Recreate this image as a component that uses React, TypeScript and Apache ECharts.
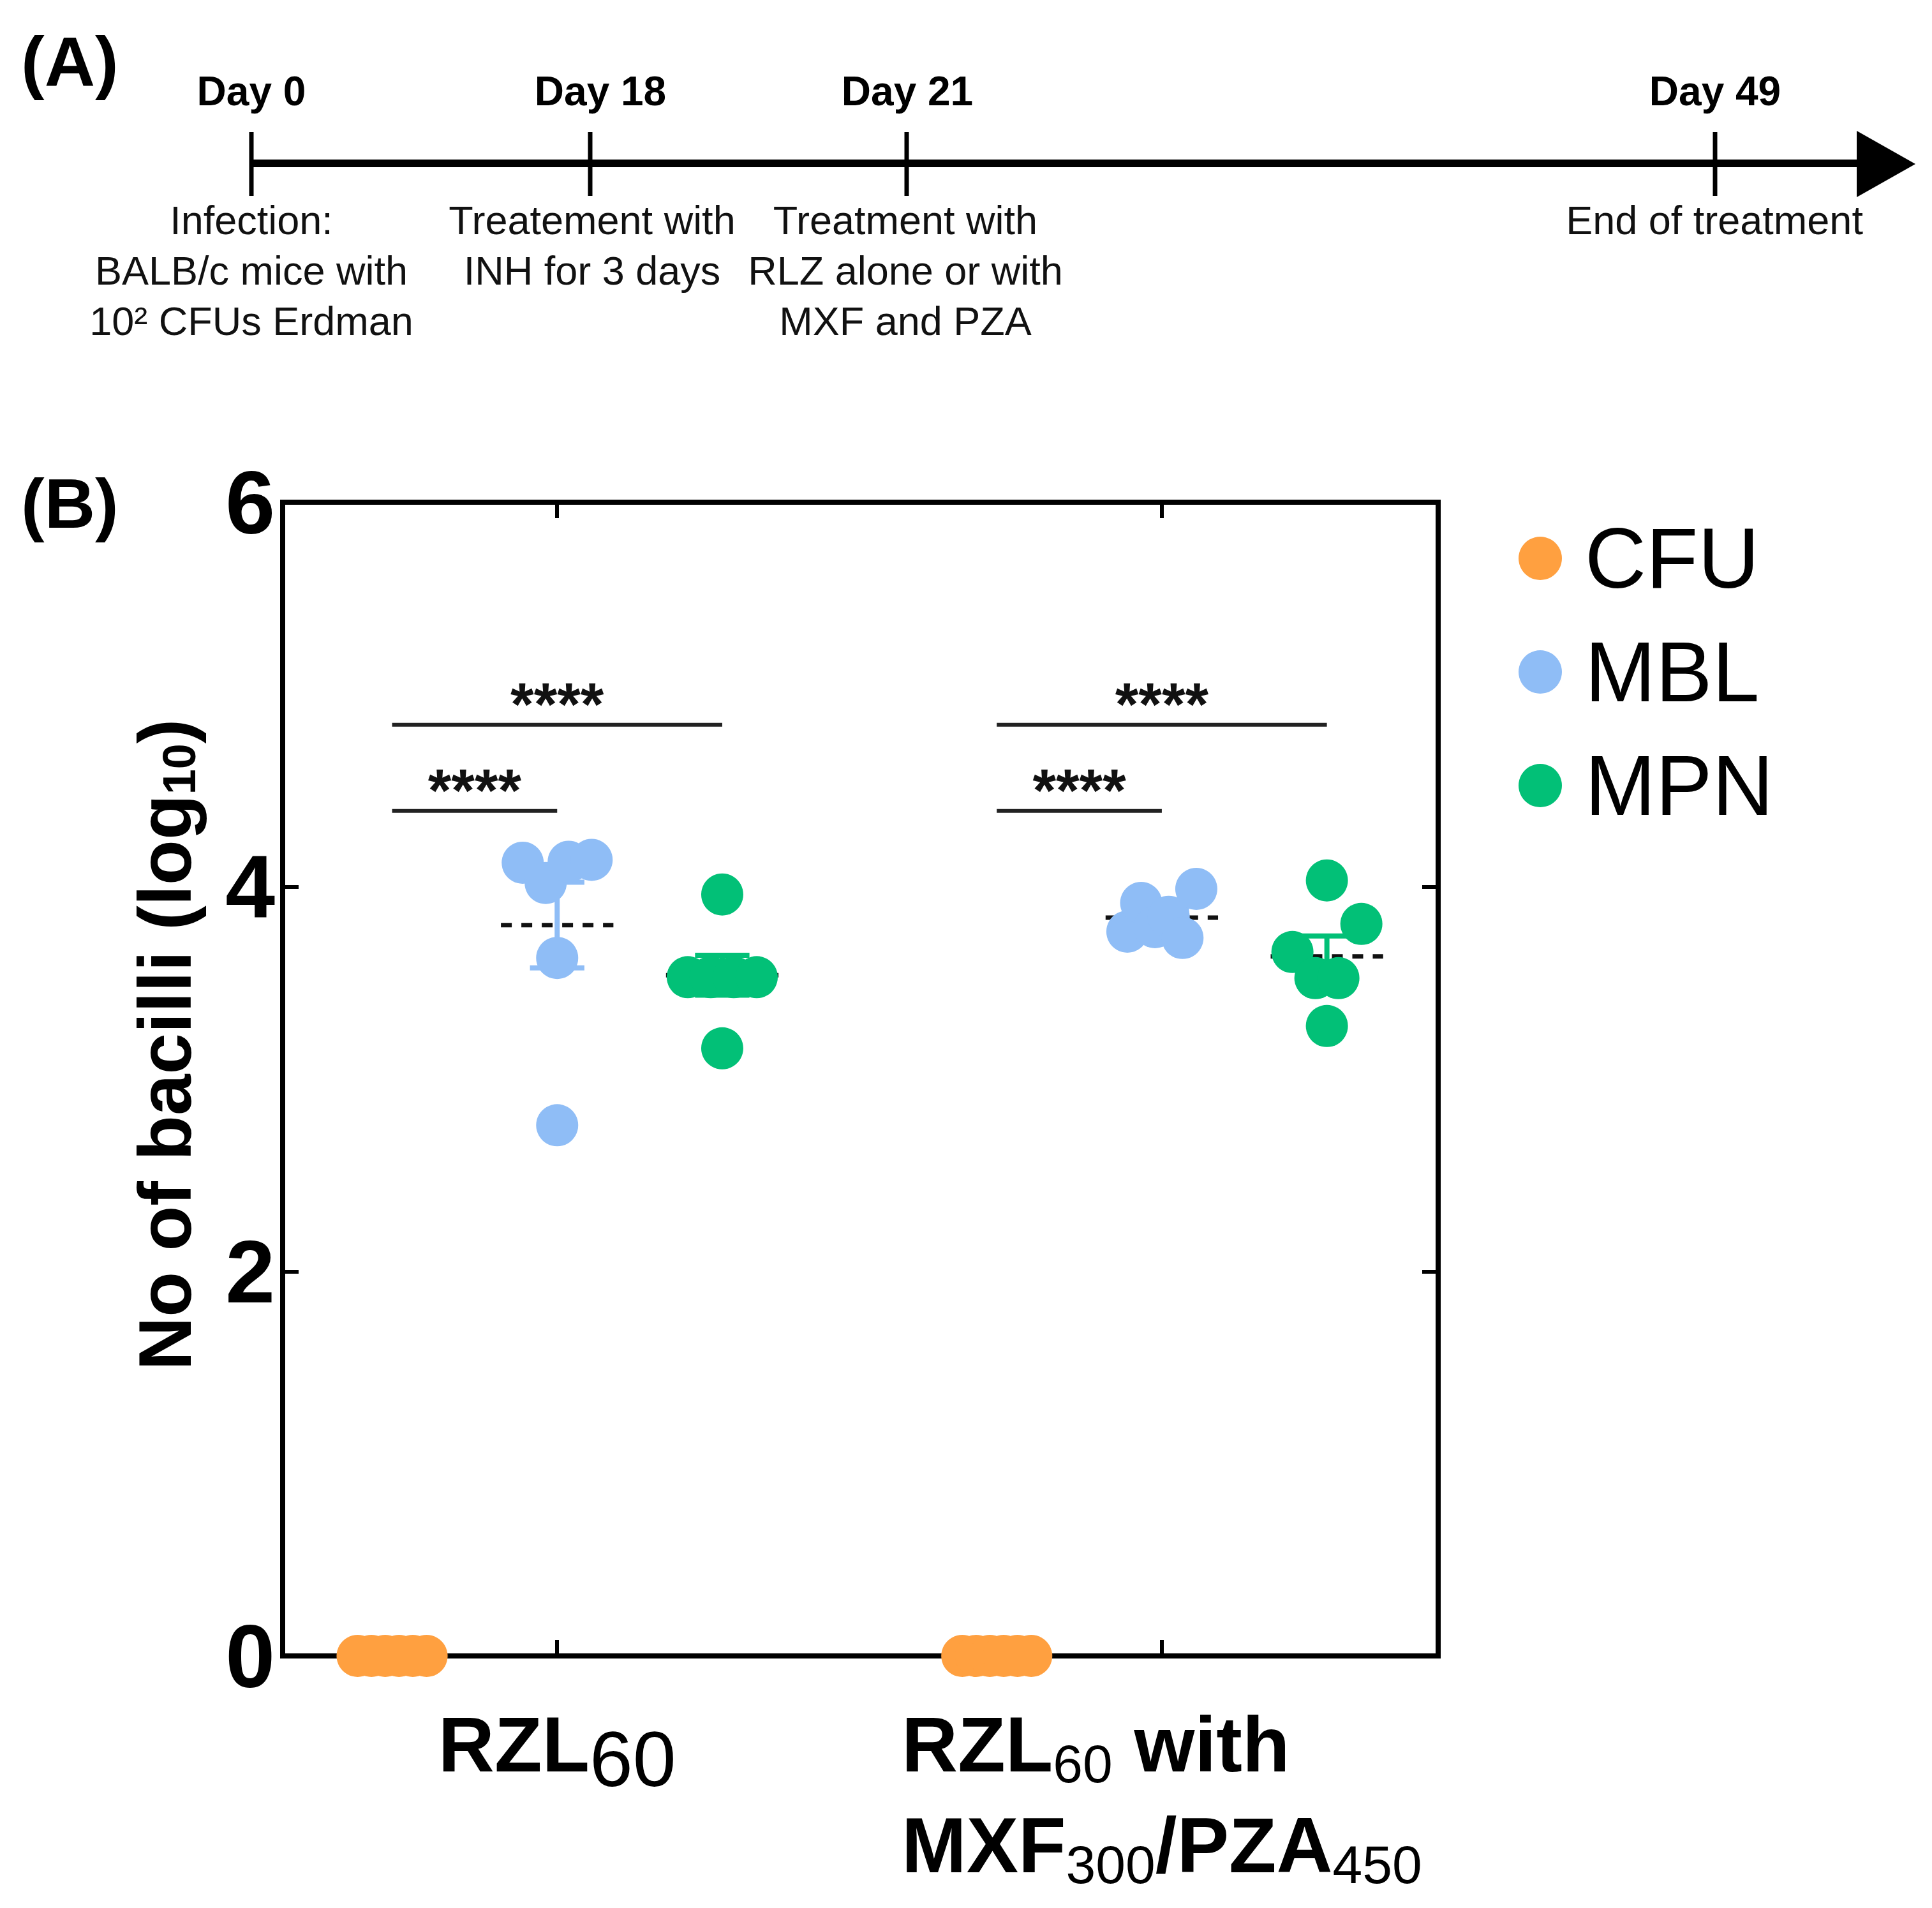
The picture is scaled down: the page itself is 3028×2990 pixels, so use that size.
import React, { useEffect, useRef } from "react";
import * as echarts from "echarts";

// ---------------- data ----------------
const groupLabels = [
  "{b|RZL}{m|60}",
  "{b|RZL}{s|60}{b| with}\n{b|MXF}{s|300}{b|/PZA}{s|450}",
];
const seriesNames = ["CFU", "MBL", "MPN"];
// log10 bacilli per mouse, group "RZL60"
const cfuRzl = [0, 0, 0, 0, 0, 0];
const mblRzl = [4.125, 4.02, 4.13, 4.14, 3.63, 2.76];
const mpnRzl = [3.96, 3.53, 3.53, 3.53, 3.53, 3.16];
// group "RZL60 with MXF300/PZA450"
const cfuCombo = [0, 0, 0, 0, 0, 0];
const mblCombo = [3.767, 3.916, 3.79, 3.844, 3.734, 3.989];
const mpnCombo = [4.033, 3.661, 3.525, 3.525, 3.807, 3.276];
const yTicks = [0, 2, 4, 6];
// significance comparisons: group index, from column, to column, label
const comparisons = [
  { group: 0, from: 0, to: 2, label: "****" },
  { group: 0, from: 0, to: 1, label: "****" },
  { group: 1, from: 0, to: 2, label: "****" },
  { group: 1, from: 0, to: 1, label: "****" },
];
const timelineDays = ["Day 0", "Day 18", "Day 21", "Day 49"];
const timelineNotes = [
  "Infection:\nBALB/c mice with\n10² CFUs Erdman",
  "Treatement with\nINH for 3 days",
  "Treatment with\nRLZ alone or with\nMXF and PZA",
  "End of treatment",
];

// ---------------- layout / style ----------------
const FONT = "'Liberation Sans', Arial, Helvetica, sans-serif";
const COLORS = ["#FFA040", "#8FBDF6", "#02C077"];
const GROUP_X = [1, 2];
const COL_OFFSET = [-0.273, 0, 0.273];
const X_MIN = 0.546;
const X_MAX = 2.457;
const TOUCH = 0.215; // value distance under which dots are spread sideways
const MAX_STEP = 0.039;
const MAX_SPAN = 0.114;
const MEAN_HALF = 0.093;
const CAP_HALF = 0.045;
const BRACKET_LEVEL: Record<number, number> = { 1: 4.395, 2: 4.843 };
const TL_X = [394, 925, 1421, 2688];
const TL_LABEL_X = [394, 941, 1422, 2688];
const TL_NOTE_X = [394, 928, 1419, 2687];

const groupsData = [
  [cfuRzl, mblRzl, mpnRzl],
  [cfuCombo, mblCombo, mpnCombo],
];

function spread(values: number[]): number[] {
  const idx = values.map((_, i) => i).sort((a, b) => values[a] - values[b]);
  const clusters: number[][] = [];
  let cur: number[] = [];
  idx.forEach((i, k) => {
    if (k > 0 && values[i] - values[idx[k - 1]] > TOUCH) {
      clusters.push(cur);
      cur = [];
    }
    cur.push(i);
  });
  clusters.push(cur);
  const off = new Array(values.length).fill(0);
  clusters.forEach((c) => {
    c.sort((a, b) => a - b);
    const n = c.length;
    if (n < 2) return;
    const step = Math.min(MAX_STEP, MAX_SPAN / (n - 1));
    c.forEach((i, j) => (off[i] = (j - (n - 1) / 2) * step));
  });
  return off;
}

function meanSem(v: number[]): [number, number] {
  const n = v.length;
  const m = v.reduce((a, b) => a + b, 0) / n;
  const sd = Math.sqrt(v.reduce((a, b) => a + (b - m) * (b - m), 0) / (n - 1));
  return [m, sd / Math.sqrt(n)];
}

export default function App() {
  const ref = useRef<HTMLDivElement>(null);
  useEffect(() => {
    document.body.style.margin = "0";
    const chart = echarts.init(ref.current!, null, { renderer: "svg" });

    const scatterSeries = seriesNames.map((name, c) => {
      const data: number[][] = [];
      groupsData.forEach((cols, g) => {
        const vals = cols[c];
        const off = spread(vals);
        vals.forEach((v, i) => data.push([GROUP_X[g] + COL_OFFSET[c] + off[i], v]));
      });
      return {
        type: "scatter",
        name,
        data,
        symbol: "circle",
        symbolSize: 66,
        itemStyle: { color: COLORS[c], opacity: 1 },
        clip: false,
        z: 2,
        silent: true,
      };
    });

    const statsData: number[][] = [];
    groupsData.forEach((cols, g) =>
      cols.forEach((vals, c) => {
        const [m, s] = meanSem(vals);
        statsData.push([GROUP_X[g] + COL_OFFSET[c], m, s, c]);
      })
    );

    const axisLineStyle = { color: "#000", width: 8, cap: "square" };
    const tickStyle = { color: "#000", width: 6 };

    const option: any = {
      animation: false,
      backgroundColor: "#fff",
      grid: { left: 443, top: 787, right: 774, bottom: 395, outerBoundsMode: "none" },
      xAxis: [
        {
          type: "value",
          min: X_MIN,
          max: X_MAX,
          position: "bottom",
          axisLine: { onZero: false, lineStyle: axisLineStyle },
          axisTick: { show: true, inside: true, length: 25, lineStyle: tickStyle, customValues: GROUP_X },
          axisLabel: {
            customValues: GROUP_X,
            margin: 65,
            align: "center",
            color: "#000",
            formatter: (v: number) => groupLabels[GROUP_X.indexOf(v)] ?? "",
            rich: {
              b: { fontSize: 122, fontWeight: "bold", fontFamily: FONT, lineHeight: 158, align: "left", verticalAlign: "bottom", padding: [0, 0, 23, 0], color: "#000" },
              s: { fontSize: 84, fontWeight: "normal", fontFamily: FONT, lineHeight: 94, align: "left", verticalAlign: "bottom", padding: [0, 0, 12, 0], color: "#000" },
              m: { fontSize: 122, fontWeight: "normal", fontFamily: FONT, lineHeight: 112, align: "left", verticalAlign: "bottom", color: "#000" },
            },
          },
          splitLine: { show: false },
        },
        {
          type: "value",
          min: X_MIN,
          max: X_MAX,
          position: "top",
          axisLine: { onZero: false, lineStyle: axisLineStyle },
          axisTick: { show: true, inside: true, length: 25, lineStyle: tickStyle, customValues: GROUP_X },
          axisLabel: { show: false },
          splitLine: { show: false },
        },
      ],
      yAxis: [
        {
          type: "value",
          min: 0,
          max: 6,
          interval: 2,
          position: "left",
          name: "{n|No of bacilli (log}{sub|10}{n|)}",
          nameLocation: "middle",
          nameGap: 126,
          nameMoveOverlap: false,
          nameTextStyle: {
            fontSize: 116,
            fontWeight: "bold",
            fontFamily: FONT,
            color: "#000",
            lineHeight: 116,
            padding: [0, 0, 0, 108],
            rich: {
              n: { fontSize: 116, fontWeight: "bold", fontFamily: FONT, lineHeight: 116, verticalAlign: "bottom", color: "#000" },
              sub: { fontSize: 72, fontWeight: "bold", fontFamily: FONT, lineHeight: 54, verticalAlign: "bottom", color: "#000" },
            },
          },
          axisLine: { onZero: false, lineStyle: axisLineStyle },
          axisTick: { show: true, inside: true, length: 25, lineStyle: tickStyle },
          axisLabel: {
            margin: 12,
            fontSize: 140,
            fontWeight: "bold",
            fontFamily: FONT,
            color: "#000",
            formatter: (v: number) => (yTicks.includes(v) ? String(v) : ""),
          },
          splitLine: { show: false },
        },
        {
          type: "value",
          min: 0,
          max: 6,
          interval: 2,
          position: "right",
          axisLine: { onZero: false, lineStyle: axisLineStyle },
          axisTick: { show: true, inside: true, length: 25, lineStyle: tickStyle },
          axisLabel: { show: false },
          splitLine: { show: false },
        },
      ],
      legend: {
        orient: "vertical",
        left: 2380,
        top: 805,
        itemWidth: 68,
        itemHeight: 68,
        itemGap: 38,
        icon: "circle",
        padding: 0,
        selectedMode: false,
        data: seriesNames,
        textStyle: { fontSize: 133, fontFamily: FONT, color: "#000", lineHeight: 140, padding: [0, 0, 0, 31] },
      },
      series: [
        {
          type: "custom",
          name: "mean ± SEM",
          z: 1,
          silent: true,
          clip: false,
          data: statsData,
          renderItem: (params: any, api: any) => {
            const x = api.value(0);
            const m = api.value(1);
            const s = api.value(2);
            const c = api.value(3);
            const mid = api.coord([x, m]);
            const hi = api.coord([x, m + s]);
            const lo = api.coord([x, m - s]);
            const halfMean = api.size([MEAN_HALF, 0])[0];
            const halfCap = api.size([CAP_HALF, 0])[0];
            const color = COLORS[c];
            const children: any[] = [];
            if (s > 0) {
              children.push({ type: "line", shape: { x1: mid[0], y1: hi[1], x2: mid[0], y2: lo[1] }, style: { stroke: color, lineWidth: 8 } });
              children.push({ type: "line", shape: { x1: mid[0] - halfCap, y1: hi[1], x2: mid[0] + halfCap, y2: hi[1] }, style: { stroke: color, lineWidth: 8 } });
              children.push({ type: "line", shape: { x1: mid[0] - halfCap, y1: lo[1], x2: mid[0] + halfCap, y2: lo[1] }, style: { stroke: color, lineWidth: 8 } });
            }
            children.push({
              type: "line",
              shape: { x1: mid[0] - halfMean, y1: mid[1], x2: mid[0] + halfMean, y2: mid[1] },
              style: { stroke: "#111", lineWidth: 7, lineDash: [17, 15] },
            });
            return { type: "group", children };
          },
        },
        ...scatterSeries,
        {
          type: "custom",
          name: "significance",
          z: 3,
          silent: true,
          clip: false,
          data: comparisons.map((c) => [c.group, c.from, c.to]),
          renderItem: (params: any, api: any) => {
            const cmp = comparisons[params.dataIndex];
            const gx = GROUP_X[cmp.group];
            const level = BRACKET_LEVEL[cmp.to - cmp.from];
            const p1 = api.coord([gx + COL_OFFSET[cmp.from], level]);
            const p2 = api.coord([gx + COL_OFFSET[cmp.to], level]);
            return {
              type: "group",
              children: [
                { type: "line", shape: { x1: p1[0], y1: p1[1], x2: p2[0], y2: p2[1] }, style: { stroke: "#222", lineWidth: 6 } },
                {
                  type: "text",
                  style: {
                    text: cmp.label,
                    x: (p1[0] + p2[0]) / 2,
                    y: p1[1] - 32,
                    align: "center",
                    verticalAlign: "middle",
                    fontSize: 94,
                    fontWeight: "bold",
                    fontFamily: FONT,
                    fill: "#111",
                  },
                },
              ],
            };
          },
        },
      ],
      graphic: [
        { type: "text", x: 33, y: 95, style: { text: "(A)", fontSize: 110, fontWeight: "bold", fontFamily: FONT, fill: "#000", align: "left", verticalAlign: "middle" } },
        { type: "text", x: 33, y: 788, style: { text: "(B)", fontSize: 110, fontWeight: "bold", fontFamily: FONT, fill: "#000", align: "left", verticalAlign: "middle" } },
        { type: "line", shape: { x1: TL_X[0], y1: 256, x2: 2916, y2: 256 }, style: { stroke: "#000", lineWidth: 12 } },
        { type: "polygon", shape: { points: [[2910, 205], [2910, 309], [3002, 257]] }, style: { fill: "#000" } },
        ...TL_X.map((x) => ({ type: "line", shape: { x1: x, y1: 207, x2: x, y2: 307 }, style: { stroke: "#000", lineWidth: 7 } })),
        ...timelineDays.map((d, i) => ({
          type: "text",
          x: TL_LABEL_X[i],
          y: 143,
          style: { text: d, fontSize: 64, fontWeight: "bold", fontFamily: FONT, fill: "#000", align: "center", verticalAlign: "middle" },
        })),
        ...timelineNotes.map((t, i) => ({
          type: "text",
          x: TL_NOTE_X[i],
          y: 305,
          style: { text: t, fontSize: 63, fontFamily: FONT, fill: "#111", align: "center", verticalAlign: "top", lineHeight: 79 },
        })),
      ],
    };

    chart.setOption(option);
    return () => chart.dispose();
  }, []);
  return <div ref={ref} style={{ position: "absolute", left: 0, top: 0, width: 3028, height: 2990 }} />;
}
